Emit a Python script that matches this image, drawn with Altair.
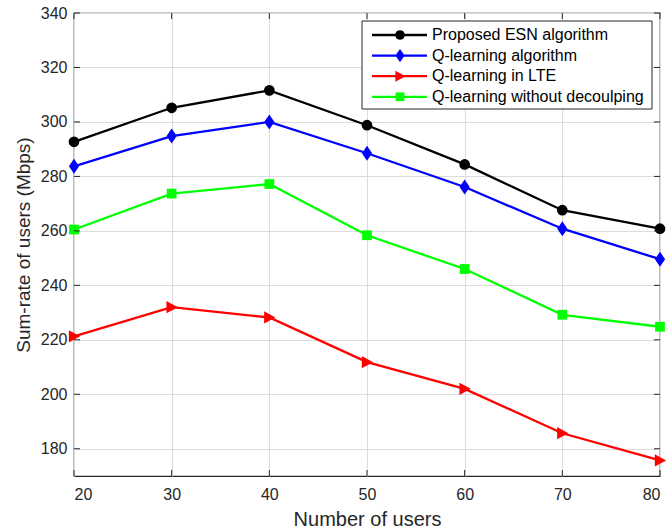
import altair as alt
import pandas as pd

# ---- data ----
users = [20, 30, 40, 50, 60, 70, 80]
series = ["Proposed ESN algorithm", "Q-learning algorithm",
          "Q-learning in LTE", "Q-learning without decoulping"]
esn = [292.7, 305.2, 311.6, 298.8, 284.4, 267.6, 260.8]
qlearn = [283.7, 294.8, 300.0, 288.5, 276.1, 260.8, 249.6]
lte = [221.3, 232.0, 228.2, 211.8, 202.0, 185.7, 175.7]
nodec = [260.5, 273.7, 277.2, 258.4, 246.0, 229.2, 224.8]
y_ticks = [180, 200, 220, 240, 260, 280, 300, 320, 340]

colors = ["#000000", "#0000ff", "#ff0000", "#00ff00"]
diamond = "M0,-1L0.68,0L0,1L-0.68,0Z"
tri_right = "M-0.85,-1L1,0L-0.85,1Z"
shapes = ["circle", diamond, tri_right, "square"]
sizes = [115, 225, 150, 95]

rows = []
for name, vals in zip(series, [esn, qlearn, lte, nodec]):
    for u, v in zip(users, vals):
        rows.append({"users": u, "rate": v, "series": name})
df = pd.DataFrame(rows)

W, H = 586, 463
FONT = "Liberation Sans"
DARK = "#262626"

xs = alt.Scale(domain=[20, 80], nice=False, zero=False)
ys = alt.Scale(domain=[170, 340], nice=False, zero=False)
color = alt.Color("series:N", scale=alt.Scale(domain=series, range=colors), legend=None)

x_axis = alt.Axis(values=users, format="d", title="Number of users", grid=True,
                  ticks=False, domain=False, labelPadding=10, titlePadding=7,
                  labelFontSize=16, titleFontSize=20)
y_axis = alt.Axis(values=y_ticks, format="d", title="Sum-rate of users (Mbps)", grid=True,
                  ticks=False, domain=False, labelPadding=7, titlePadding=7,
                  labelFontSize=16, titleFontSize=19)

lines = alt.Chart(df).mark_line(strokeWidth=2.3).encode(
    x=alt.X("users:Q", scale=xs, axis=x_axis),
    y=alt.Y("rate:Q", scale=ys, axis=y_axis),
    color=color,
    detail="series:N",
)

point_layers = []
for name, shp, sz in zip(series, shapes, sizes):
    point_layers.append(
        alt.Chart(df).transform_filter(alt.datum.series == name)
        .mark_point(filled=True, opacity=1, shape=shp, size=sz)
        .encode(x=alt.X("users:Q", scale=xs, axis=x_axis),
                y=alt.Y("rate:Q", scale=ys, axis=y_axis),
                color=color)
    )

# inward ticks on all four sides (MATLAB box style)
xt = pd.DataFrame({"t": users})
yt = pd.DataFrame({"t": y_ticks})
TL = 6
tick_b = alt.Chart(xt).mark_rule(color=DARK).encode(
    x=alt.X("t:Q", scale=xs, axis=x_axis), y=alt.value(H), y2=alt.value(H - TL))
tick_t = alt.Chart(xt).mark_rule(color=DARK).encode(
    x=alt.X("t:Q", scale=xs, axis=x_axis), y=alt.value(0), y2=alt.value(TL))
tick_l = alt.Chart(yt).mark_rule(color=DARK).encode(
    y=alt.Y("t:Q", scale=ys, axis=y_axis), x=alt.value(0), x2=alt.value(TL))
tick_r = alt.Chart(yt).mark_rule(color=DARK).encode(
    y=alt.Y("t:Q", scale=ys, axis=y_axis), x=alt.value(W), x2=alt.value(W - TL))

# legend box (top right, inside plot)
leg = pd.DataFrame({"series": series, "i": list(range(len(series)))})
box = alt.Chart(alt.Data(values=[{"a": 1}])).mark_rect(
    fill="white", stroke=DARK, strokeWidth=1).encode(
    x=alt.value(288), x2=alt.value(578), y=alt.value(8), y2=alt.value(96))
ly = alt.Y("py:Q", scale=None, axis=None)
leg_base = alt.Chart(leg).transform_calculate(py="22 + datum.i * 20.6")
leg_line = leg_base.mark_rule(strokeWidth=2.3).encode(
    x=alt.value(298), x2=alt.value(353), y=ly, color=color)
leg_pts = []
for name, shp, sz in zip(series, shapes, sizes):
    leg_pts.append(
        leg_base.transform_filter(alt.datum.series == name)
        .mark_point(filled=True, opacity=1, shape=shp, size=sz * 0.8)
        .encode(x=alt.value(326), y=ly, color=color)
    )
leg_txt = leg_base.mark_text(align="left", baseline="middle", fontSize=16,
                             font=FONT, color="#000000").encode(
    x=alt.value(358), y=ly, text="series:N")

chart = alt.layer(
    lines, *point_layers, tick_b, tick_t, tick_l, tick_r, box, leg_line, *leg_pts, leg_txt
).properties(
    width=W, height=H,
    autosize=alt.AutoSizeParams(type="none"),
    padding={"left": 74, "top": 13, "right": 9, "bottom": 55},
).configure_view(
    stroke=DARK, strokeWidth=1.2
).configure_axis(
    gridColor="#dcdcdc", gridWidth=1, labelColor=DARK, titleColor=DARK,
    labelFont=FONT, titleFont=FONT, titleFontWeight="normal",
)

chart.save("out.html", embed_options={"renderer": "svg", "actions": False})
